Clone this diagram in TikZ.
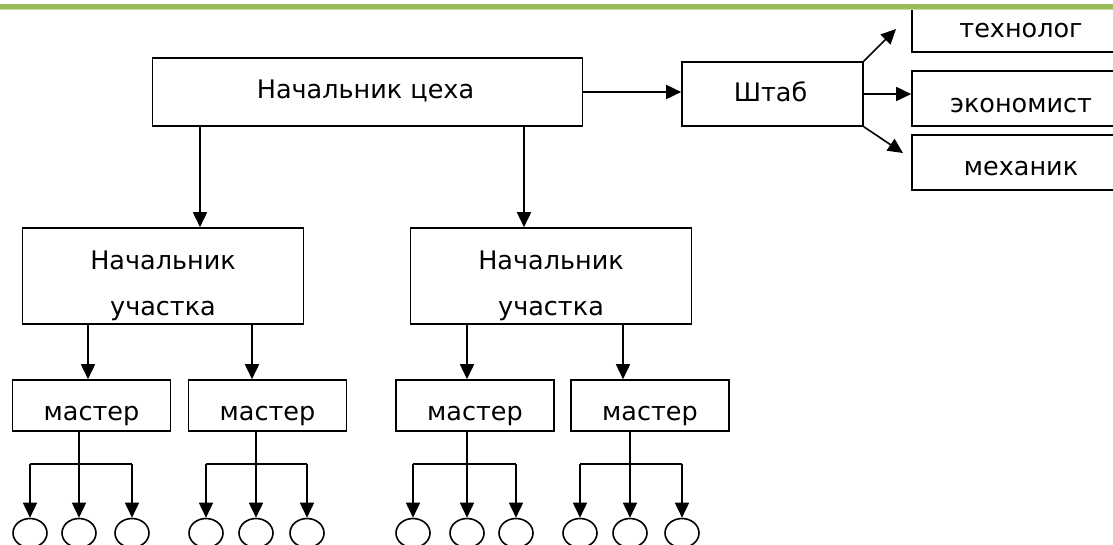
\documentclass[tikz,border=0pt]{standalone}
\usepackage{fontspec}
\setmainfont{DejaVu Sans}
\usepackage{tikz}
\usetikzlibrary{arrows.meta}
\usetikzlibrary{shapes,positioning}
\definecolor{barGreen}{HTML}{9BBB59}
\definecolor{barLight}{HTML}{C6DA9E}

\begin{document}
\begin{tikzpicture}[x=1pt, y=-1pt, box/.style={draw, rectangle, inner sep=0pt, line width=1.6pt}, headbox/.style={box, minimum width=430pt, minimum height=68pt}, staffbox/.style={box, minimum width=181pt, minimum height=64pt}, sidebox/.style={box, minimum width=218pt, minimum height=55pt}, secbox/.style={box, minimum width=281pt, minimum height=96pt}, master/.style={box, minimum width=158pt, minimum height=51pt}, leaf/.style={draw, ellipse, line width=1.6pt, inner sep=0pt, minimum width=34pt, minimum height=29pt}, txt/.style={anchor=base, inner sep=0pt, font=\fontsize{25.5}{30}\selectfont}, arr/.style={line width=1.6pt, -{Triangle[length=15pt, width=14pt]}}]
		\useasboundingbox (0,0) rectangle (1113,544);
		\clip (0,0) rectangle (1113,544);

		% top level and staff
		\node[headbox] (head) at (367.5,92) {};
		\node[txt] (headt) at ([xshift=-2pt, yshift=-6pt]head.center) {Начальник цеха};
		\node[staffbox] (staff) at (772.5,94) {};
		\node[txt] (stafft) at ([xshift=-2pt, yshift=-7pt]staff.center) {Штаб};
		\node[sidebox, minimum height=46pt] (tech) at (1021,29) {};
		\node[txt] (techt) at ([yshift=-8pt]tech.center) {технолог};
		\node[sidebox] (econ) at (1021,98.5) {};
		\node[txt] (econt) at ([yshift=-13.5pt]econ.center) {экономист};
		\node[sidebox] (mech) at (1021,162.5) {};
		\node[txt] (mecht) at ([yshift=-12.5pt]mech.center) {механик};

		% sections
		\node[secbox] (sec1) at (163,276) {};
		\node[txt, anchor=north, align=center, font=\fontsize{25.5}{46}\selectfont] (sec1t) at (163,250.5) {Начальник\\участка};
		\node[secbox] (sec2) at (551,276) {};
		\node[txt, anchor=north, align=center, font=\fontsize{25.5}{46}\selectfont] (sec2t) at (551,250.5) {Начальник\\участка};

		% masters
		\node[master] (mA) at (91.5,405.5) {};
		\node[master] (mB) at (267.5,405.5) {};
		\node[master] (mC) at (475,405.5) {};
		\node[master] (mD) at (650,405.5) {};
		\node[txt] (mAt) at ([yshift=-14.5pt]mA.center) {мастер};
		\node[txt] (mBt) at ([yshift=-14.5pt]mB.center) {мастер};
		\node[txt] (mCt) at ([yshift=-14.5pt]mC.center) {мастер};
		\node[txt] (mDt) at ([yshift=-14.5pt]mD.center) {мастер};

		% connectors
		\coordinate (c1) at (200,0);
		\coordinate (c2) at (524,0);
		\coordinate (c3) at (88,0);
		\coordinate (c4) at (252,0);
		\coordinate (c5) at (467,0);
		\coordinate (c6) at (623,0);
		\coordinate (techtip) at (896,29);
		\coordinate (mechtip) at (903,153);
		\draw[arr] (c1 |- head.south) -- (c1 |- sec1.north);
		\draw[arr] (c2 |- head.south) -- (c2 |- sec2.north);
		\draw[arr] (c3 |- sec1.south) -- (c3 |- mA.north);
		\draw[arr] (c4 |- sec1.south) -- (c4 |- mB.north);
		\draw[arr] (c5 |- sec2.south) -- (c5 |- mC.north);
		\draw[arr] (c6 |- sec2.south) -- (c6 |- mD.north);
		\draw[arr] (head.east) -- (head.east -| staff.west);
		\draw[arr] (staff.north east) -- (techtip);
		\draw[arr] (staff.east) -- (staff.east -| econ.west);
		\draw[arr] (staff.south east) -- (mechtip);

		% workers
		\foreach \m/\s/\a/\b in {A/79/30/132, B/256/206/307, C/467/413/516, D/630/580/682} {
			\coordinate (bar\m) at (\s,464);
			\node[leaf] (l\m1) at (\a,533) {};
			\node[leaf] (l\m2) at (\s,533) {};
			\node[leaf] (l\m3) at (\b,533) {};
			\draw[line width=1.6pt] (bar\m |- m\m.south) -- (bar\m);
			\draw[line width=1.6pt] (l\m1 |- bar\m) -- (l\m3 |- bar\m);
			\draw[arr] (l\m1 |- bar\m) -- (l\m1.north);
			\draw[arr] (bar\m) -- (l\m2.north);
			\draw[arr] (l\m3 |- bar\m) -- (l\m3.north);
		}

		\fill[barGreen] (0,3.5) rectangle (1113,8.5);
		\fill[barLight] (0,8.5) rectangle (1113,10);
	\end{tikzpicture}
\end{document}
